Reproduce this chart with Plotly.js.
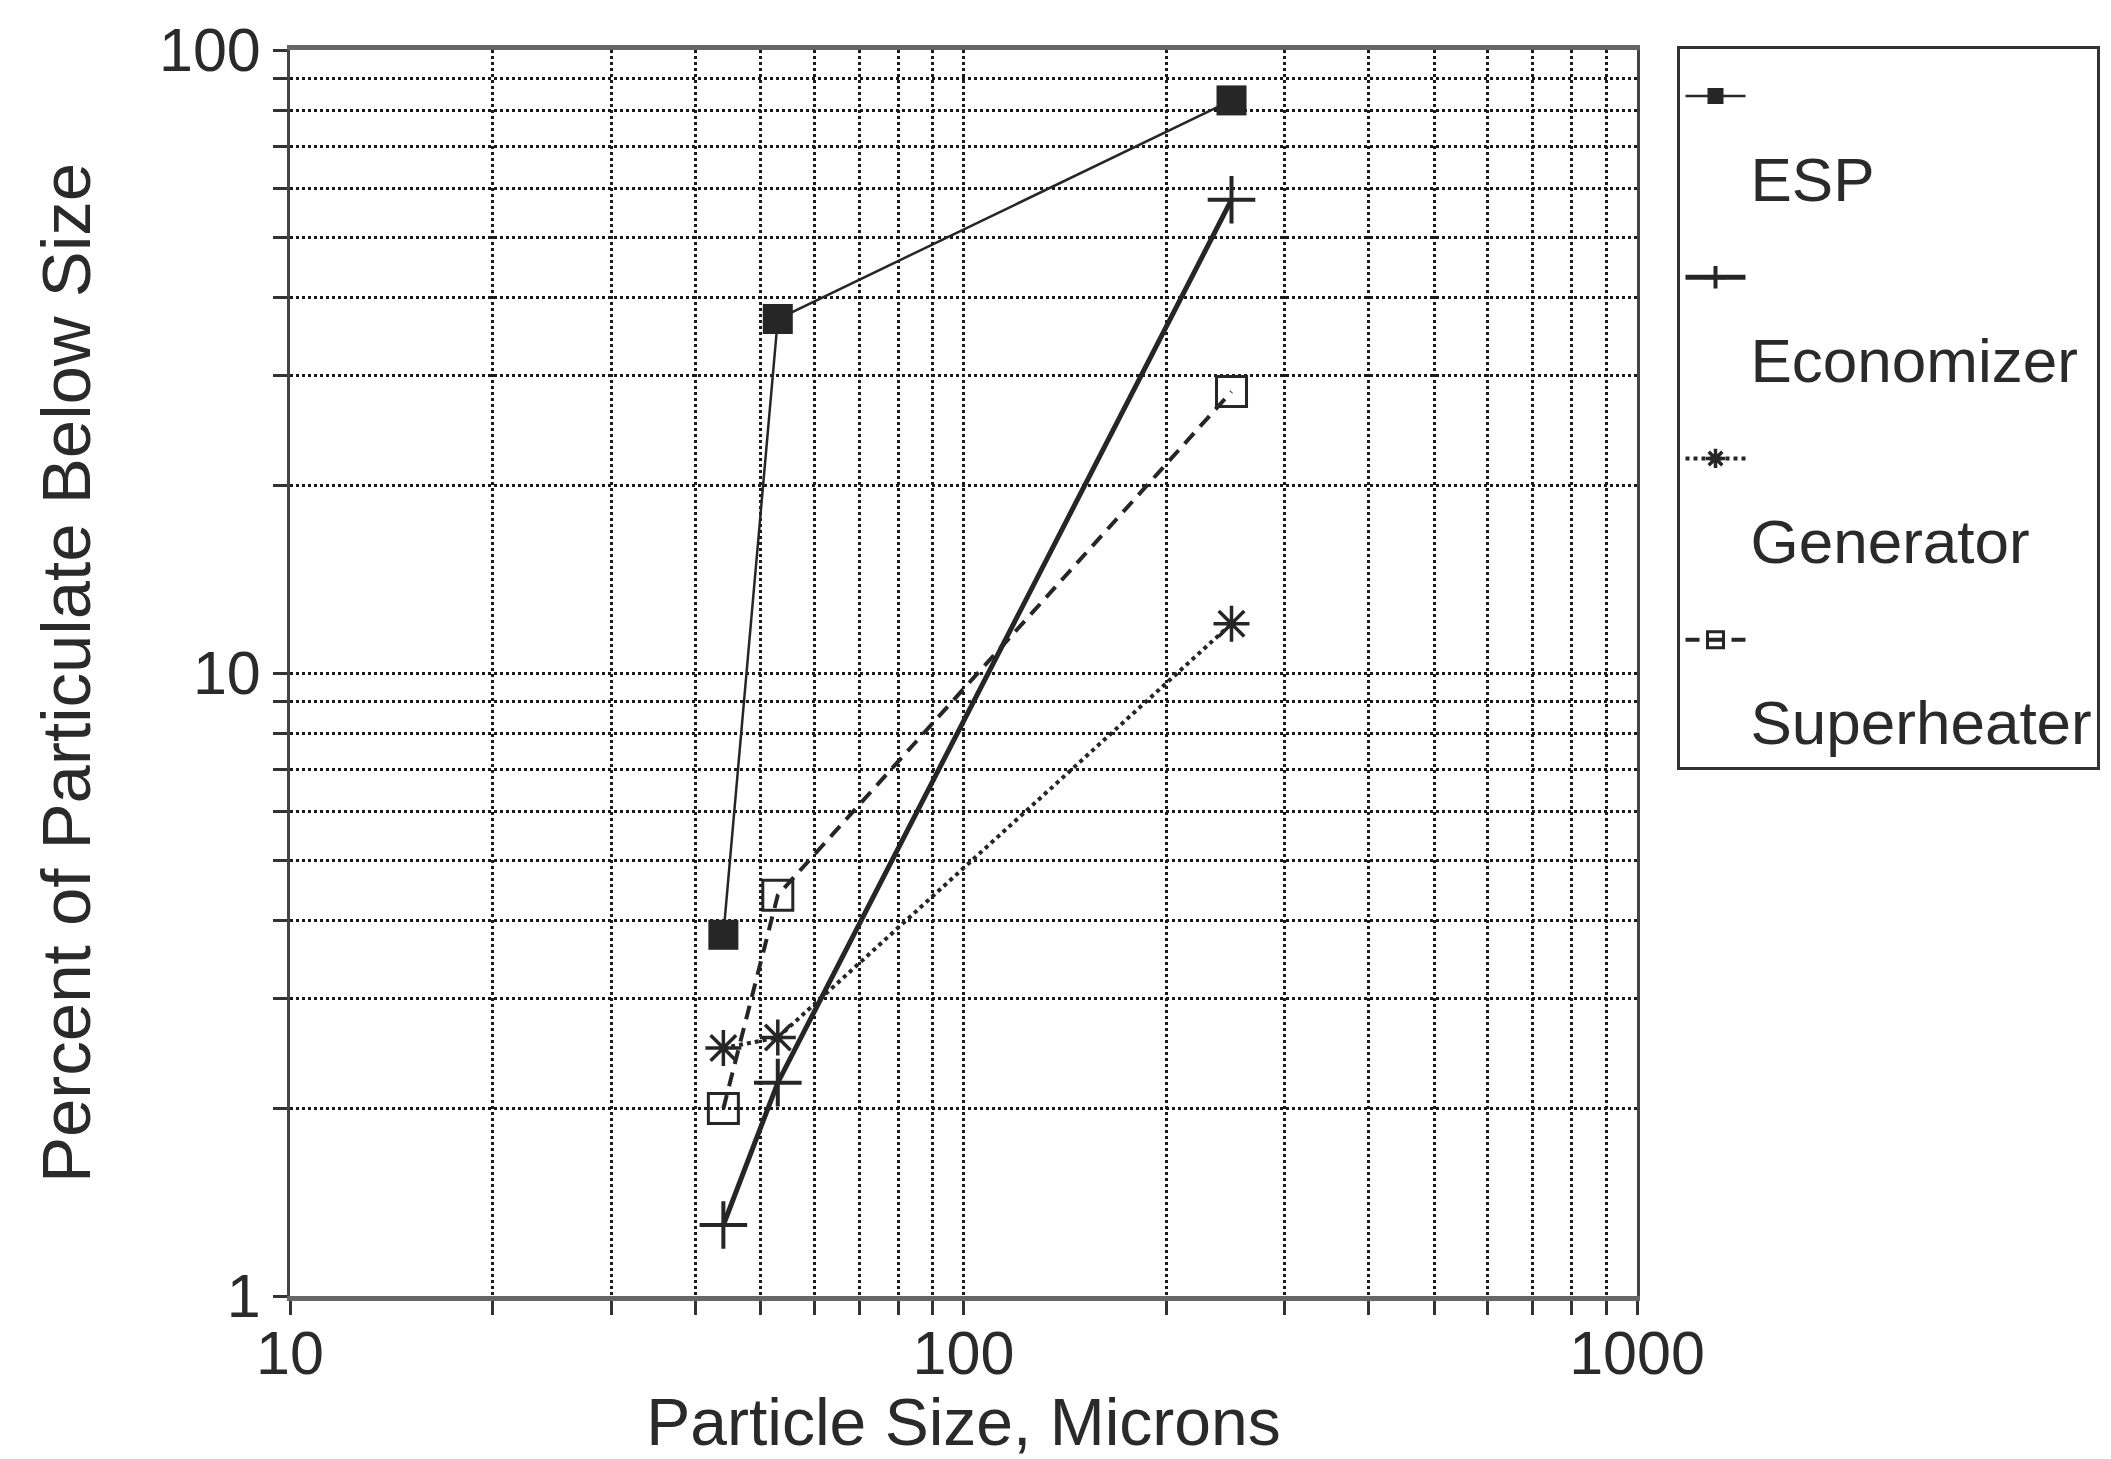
<!DOCTYPE html>
<html>
<head>
<meta charset="utf-8">
<script src="https://cdn.plot.ly/plotly-3.0.1.min.js"></script>
<style>
  html, body { margin: 0; padding: 0; background: #fff; }
  #chart { width: 2111px; height: 1459px; }
</style>
</head>
<body>
<div id="chart"></div>
<script>
// Particle size (microns) at which each sample was measured
const particleSize = [44, 53, 250];

// Percent of particulate below size, per collection point
const espPct = [3.8, 37, 83];
const economizerPct = [1.3, 2.2, 57.5];
const generatorPct = [2.5, 2.6, 12];
const superheaterPct = [2.0, 4.4, 28.3];

const seriesNames = ['ESP', 'Economizer', 'Generator', 'Superheater'];

// Log-paper grid: a line at every 1..9 step of each decade, labels only on decades
const xTickVals = [10, 20, 30, 40, 50, 60, 70, 80, 90, 100, 200, 300, 400, 500, 600, 700, 800, 900, 1000];
const xTickText = ['10', '', '', '', '', '', '', '', '', '100', '', '', '', '', '', '', '', '', '1000'];
const yTickVals = [1, 2, 3, 4, 5, 6, 7, 8, 9, 10, 20, 30, 40, 50, 60, 70, 80, 90, 100];
const yTickText = ['1', '', '', '', '', '', '', '', '', '10', '', '', '', '', '', '', '', '', '100'];

const ink = '#262626';
const fontFamily = '"Liberation Sans", Arial, Helvetica, sans-serif';

// Each series sits in its own legend group so the group gap spaces the entries
const traces = [
  {
    x: particleSize, y: espPct, name: ' <br>' + seriesNames[0], legendgroup: 'g1',
    mode: 'lines+markers',
    line: { color: ink, width: 2.5 },
    marker: { symbol: 'square', size: 30, color: ink }
  },
  {
    x: particleSize, y: economizerPct, name: ' <br>' + seriesNames[1], legendgroup: 'g2',
    mode: 'lines+markers',
    line: { color: ink, width: 5 },
    marker: { symbol: 'cross-thin', size: 34, color: ink, line: { color: ink, width: 4 } }
  },
  {
    x: particleSize, y: generatorPct, name: ' <br>' + seriesNames[2], legendgroup: 'g3',
    mode: 'lines+markers',
    line: { color: ink, width: 4, dash: 'dot' },
    marker: { symbol: 'asterisk-open', size: 30, color: ink, line: { color: ink, width: 3.5 } }
  },
  {
    x: particleSize, y: superheaterPct, name: ' <br>' + seriesNames[3], legendgroup: 'g4',
    mode: 'lines+markers',
    line: { color: ink, width: 4, dash: '14px,9px' },
    marker: { symbol: 'square-open', size: 30, color: ink, line: { color: ink, width: 3 } }
  }
];

const axisCommon = {
  type: 'log',
  showgrid: true,
  gridcolor: '#1a1a1a',
  gridwidth: 3,
  griddash: 'dot',
  zeroline: false,
  showline: true,
  mirror: true,
  ticks: 'outside',
  ticklen: 14,
  tickwidth: 3,
  tickcolor: '#333',
  tickmode: 'array',
  automargin: false,
  tickfont: { family: fontFamily, size: 61, color: '#2a2a2a' }
};

const layout = {
  width: 2111,
  height: 1459,
  paper_bgcolor: '#fff',
  plot_bgcolor: '#fff',
  margin: { l: 290, r: 473, t: 50, b: 163 },
  font: { family: fontFamily, color: '#2a2a2a' },
  showlegend: true,
  legend: {
    x: 1.0293, y: 1.003, xanchor: 'left', yanchor: 'top',
    bgcolor: '#fff',
    bordercolor: '#333',
    borderwidth: 3,
    valign: 'top',
    itemwidth: 60,
    tracegroupgap: 17,
    font: { family: fontFamily, size: 62, color: '#2a2a2a' }
  },
  xaxis: Object.assign({}, axisCommon, {
    range: [1, 3],
    tickvals: xTickVals,
    ticktext: xTickText,
    ticklabelstandoff: -14,
    linecolor: '#666',
    linewidth: 5,
    title: {
      text: 'Particle Size, Microns',
      standoff: 22,
      font: { family: fontFamily, size: 66, color: '#2a2a2a' }
    }
  }),
  yaxis: Object.assign({}, axisCommon, {
    range: [0, 2],
    tickvals: yTickVals,
    ticktext: yTickText,
    linecolor: '#444',
    linewidth: 3,
    title: {
      text: 'Percent of Particulate Below Size',
      standoff: 46,
      font: { family: fontFamily, size: 69, color: '#2a2a2a' }
    }
  })
};

Plotly.newPlot('chart', traces, layout, { staticPlot: true, displayModeBar: false });
</script>
</body>
</html>
